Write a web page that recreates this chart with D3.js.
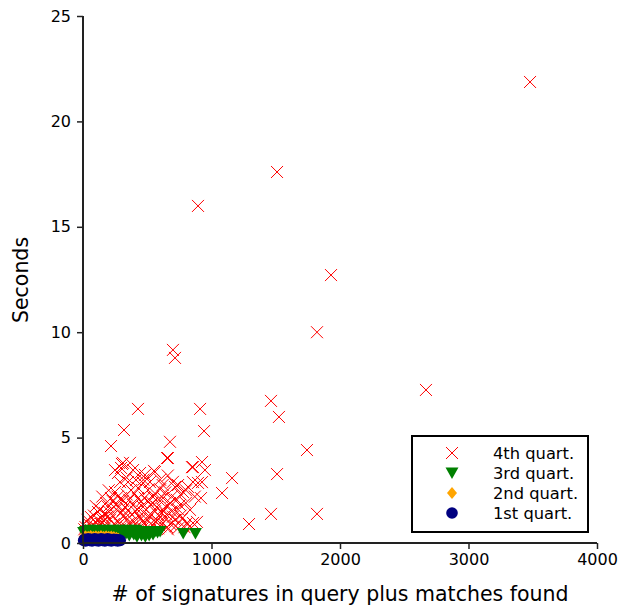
<!DOCTYPE html>
<html><head><meta charset="utf-8">
<script src="https://cdn.jsdelivr.net/npm/d3@7"></script>
<style>body{margin:0;background:#fff}svg{display:block}text{font-family:"DejaVu Sans",sans-serif}</style>
</head><body><svg id="c" width="625" height="605"></svg>
<script>
const xTicks=[0,1000,2000,3000,4000];
const yTicks=[0,5,10,15,20,25];
const seriesNames=["4th quart.","3rd quart.","2nd quart.","1st quart."];
const q4=[[3479,21.87],[1510,17.6],[895,15.99],[1930,12.71],[1821,10.0],[700,9.16],[716,8.78],[2669,7.26],[1463,6.74],[911,6.36],[428,6.36],[1525,5.98],[319,5.36],[942,5.31],[1743,4.41],[218,4.6],[677,4.8],[1160,3.08],[1510,3.27],[1082,2.37],[1292,0.9],[1463,1.38],[1821,1.38],[654,4.03],[926,3.84],[949,3.46],[856,3.6],[918,2.13],[895,2.85],[802,2.5],
[311,3.80],[366,3.80],[296,3.56],[389,3.46],[444,3.32],[272,3.32],[482,3.23],[560,3.37],[288,2.89],[350,2.89],[412,2.99],[467,2.85],[249,2.42],[374,2.51],[506,2.51],[521,2.89],[218,2.13],[296,2.13],[428,2.13],[545,2.18],[195,1.71],[257,1.80],[327,1.71],[389,1.80],[467,1.71],[529,1.80],[117,1.47],[171,1.42],[62,1.23],[140,1.19],
[661,4.03],[848,3.60],[856,2.89],[926,2.89],[817,2.66],[716,2.66],[778,2.42],[623,2.13],[677,1.90],[576,1.71],[755,1.80],[833,1.57],[887,1.00],[615,1.42],[576,1.09],[716,1.09],[654,0.76],[809,0.95],[856,0.95],[553,3.42],[303,3.75],[249,3.46],
[20,0.75],[45,0.9],[70,0.8],[95,1.0],[120,0.85],[150,0.95],[180,0.8],[210,1.1],[240,0.9],[270,1.0],[300,0.85],[330,1.2],[360,0.95],[390,1.05],[420,0.8],[450,1.15],[480,0.9],[510,1.3],[540,0.85],[570,1.0],[600,0.8],[640,1.2],[680,0.9],[720,0.8],[760,1.3],[790,0.75],
[35,1.1],[85,1.3],[130,1.6],[160,1.2],[200,1.5],[230,1.3],[260,1.6],[290,1.4],[320,1.3],[350,1.55],[380,1.35],[410,1.5],[440,1.25],[470,1.45],[500,1.1],[530,1.35],[560,1.5],[590,1.3],[620,1.6],[650,1.35],[690,1.5],[740,1.6],[770,1.15],
[100,1.75],[180,1.9],[230,2.0],[270,2.2],[310,2.0],[340,2.3],[360,2.05],[400,2.35],[430,2.6],[450,1.95],[480,2.15],[500,2.0],[560,2.35],[590,2.05],[600,2.55],[640,2.4],[690,2.2],[730,2.05],[760,2.3],[620,2.75],[700,2.9],[740,2.75],[600,3.0],[660,3.2],
[10,0.65],[55,0.65],[110,0.7],[165,0.65],[225,0.7],[285,0.65],[345,0.7],[405,0.65],[465,0.7],[525,0.65],[585,0.7],[660,0.65],[740,0.7],[840,0.7],
[150,2.2],[200,2.5],[340,3.1],[470,3.0],[140,0.9],[260,0.8],[380,0.75],[500,0.75],[620,0.95],[700,1.25],[420,1.6],[310,1.55],[190,1.25],[540,1.9],[660,1.75],[800,1.9],[870,2.2]];
const q3=[[5,0.5],[20,0.55],[35,0.45],[50,0.6],[65,0.5],[80,0.55],[95,0.45],[110,0.6],[125,0.5],[140,0.55],[155,0.45],[170,0.6],[185,0.5],[200,0.55],[215,0.45],[230,0.6],[245,0.5],[260,0.55],[275,0.45],[290,0.6],[305,0.5],[320,0.55],[335,0.45],[350,0.6],[365,0.5],[380,0.55],[395,0.4],[410,0.6],[425,0.5],[440,0.55],[455,0.35],[470,0.55],[485,0.3],[500,0.5],[515,0.35],[530,0.55],[545,0.4],[560,0.55],[580,0.5],[600,0.55],[780,0.45],[875,0.45],[360,0.35],[420,0.3],[300,0.35],[250,0.35]];
const q2=[[5,0.3],[20,0.32],[40,0.3],[60,0.33],[80,0.3],[100,0.32],[120,0.3],[140,0.33],[160,0.3],[180,0.32],[200,0.3],[220,0.31],[240,0.28],[260,0.25],[275,0.2]];
const q1=[[5,0.12],[12,0.18],[20,0.1],[30,0.15],[40,0.2],[50,0.12],[60,0.18],[70,0.1],[80,0.15],[90,0.2],[100,0.12],[110,0.17],[120,0.1],[130,0.15],[140,0.2],[150,0.12],[160,0.17],[170,0.1],[180,0.15],[190,0.2],[200,0.12],[210,0.17],[220,0.1],[230,0.15],[240,0.18],[250,0.12],[260,0.16],[270,0.1],[280,0.15],[290,0.12]];

const svg=d3.select("#c");
const x=d3.scaleLinear().domain([0,4000]).range([83,597]);
const y=d3.scaleLinear().domain([0,25]).range([543,16]);

const g=svg.append("g");
const xA=svg.append("g").attr("transform","translate(0,543)").call(d3.axisBottom(x).tickValues(xTicks).tickSize(6).tickPadding(5).tickFormat(d3.format("d")));
const yA=svg.append("g").attr("transform","translate(83,0)").call(d3.axisLeft(y).tickValues(yTicks).tickSize(6).tickPadding(6).tickFormat(d3.format("d")));
[xA,yA].forEach(a=>{a.selectAll("text").attr("font-size",16).attr("fill","#000").attr("font-family","DejaVu Sans");a.select(".domain").attr("stroke","#222").attr("stroke-width",2);a.selectAll(".tick line").attr("stroke","#222").attr("stroke-width",1.5);});
xA.select(".domain").attr("d","M83,0H597");
yA.select(".domain").attr("d","M0,543V16");

function drawX(sel,px,py){sel.append("path").attr("d",`M${px-6},${py-6}L${px+6},${py+6}M${px-6},${py+6}L${px+6},${py-6}`).attr("stroke","#ff0000").attr("stroke-width",1).attr("fill","none");}
function drawTri(sel,px,py){sel.append("path").attr("d",`M${px-6.5},${py-5.5}L${px+6.5},${py-5.5}L${px},${py+6}Z`).attr("fill","#008000");}
function drawDia(sel,px,py){sel.append("path").attr("d",`M${px},${py-6}L${px+5},${py}L${px},${py+6}L${px-5},${py}Z`).attr("fill","#ffa500");}
function drawCirc(sel,px,py){sel.append("circle").attr("cx",px).attr("cy",py).attr("r",5.8).attr("fill","#000080");}

const drawers=[drawX,drawTri,drawDia,drawCirc];
[q4,q3,q2,q1].forEach((s,i)=>{const gg=g.append("g");s.forEach(d=>drawers[i](gg,x(d[0]),y(d[1])));});

// legend
const lg=svg.append("g");
lg.append("rect").attr("x",412).attr("y",436).attr("width",176).attr("height",96).attr("fill","#fff").attr("stroke","#000").attr("stroke-width",2);
seriesNames.forEach((n,i)=>{const cy=453+i*20;drawers[i](lg,452,cy);lg.append("text").attr("x",493).attr("y",cy+6).attr("font-size",16.3).text(n);});

svg.append("text").attr("x",340).attr("y",601).attr("text-anchor","middle").attr("font-size",20.5).text("# of signatures in query plus matches found");
svg.append("text").attr("transform","translate(28,280) rotate(-90)").attr("text-anchor","middle").attr("font-size",20.5).text("Seconds");
</script></body></html>
